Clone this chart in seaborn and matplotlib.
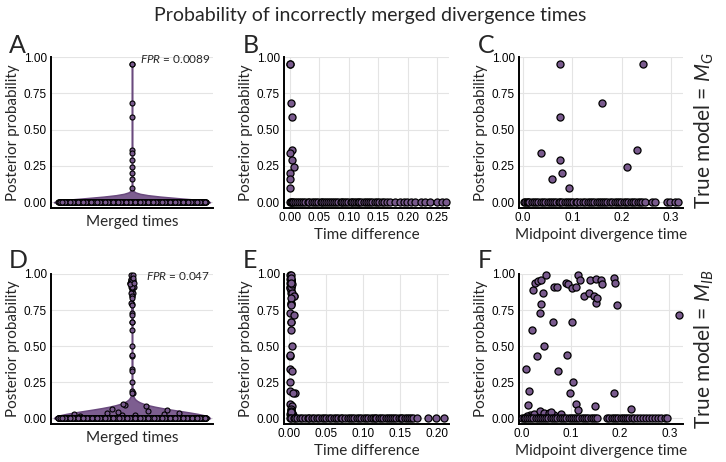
import numpy as np
import pandas as pd
import matplotlib
matplotlib.use("Agg")
import matplotlib.pyplot as plt
import seaborn as sns
from matplotlib.ticker import FormatStrFormatter

# ---------------- data ----------------
# Top row (true model = M_G): non-zero posterior probabilities
top_prob_nonzero = [0.95, 0.95, 0.68, 0.59, 0.36, 0.34, 0.29, 0.24, 0.20, 0.16, 0.10]
top_diff_nonzero = [0.001, 0.001, 0.002, 0.003, 0.003, 0.001, 0.004, 0.007, 0.001, 0.001, 0.000]
top_mid_nonzero = [0.074, 0.243, 0.160, 0.074, 0.230, 0.036, 0.075, 0.211, 0.079, 0.058, 0.094]
# x positions of the visible zero-probability points
top_zero_diff = [0.000, 0.002, 0.004, 0.006, 0.009, 0.012, 0.015, 0.019, 0.022, 0.026,
                 0.030, 0.033, 0.037, 0.041, 0.044, 0.048, 0.052, 0.055, 0.058, 0.061,
                 0.065, 0.068, 0.071, 0.074, 0.078, 0.082, 0.086, 0.089, 0.092, 0.095,
                 0.099, 0.103, 0.106, 0.109, 0.112, 0.115, 0.118, 0.121, 0.125, 0.129,
                 0.133, 0.136, 0.140, 0.144, 0.148, 0.152, 0.156, 0.160, 0.165, 0.170,
                 0.178, 0.186, 0.193, 0.199, 0.206, 0.212, 0.222, 0.230, 0.237, 0.250,
                 0.258, 0.265]
top_zero_mid = [0.002, 0.005, 0.008, 0.010, 0.013, 0.018, 0.022, 0.027, 0.031, 0.036,
                0.040, 0.045, 0.050, 0.054, 0.058, 0.063, 0.067, 0.072, 0.076, 0.080,
                0.085, 0.089, 0.094, 0.098, 0.102, 0.107, 0.110, 0.116, 0.121, 0.126,
                0.131, 0.135, 0.140, 0.144, 0.149, 0.153, 0.158, 0.162, 0.167, 0.171,
                0.176, 0.180, 0.186, 0.190, 0.195, 0.199, 0.204, 0.208, 0.213, 0.218,
                0.222, 0.227, 0.232, 0.236, 0.241, 0.247, 0.262, 0.268, 0.292, 0.297,
                0.308, 0.313]
top_fpr = 0.0089

# Bottom row (true model = M_IB)
bot_prob_nonzero = [0.34, 0.19, 0.095, 0.61, 0.89, 0.94, 0.95, 0.96, 0.43, 0.73,
                    0.79, 0.87, 0.50, 0.99, 0.67, 0.91, 0.91, 0.33, 0.94, 0.44,
                    0.93, 0.175, 0.90, 0.665, 0.25, 0.91, 0.10, 0.99, 0.955, 0.055,
                    0.845, 0.865, 0.96, 0.85, 0.80, 0.835, 0.965, 0.085, 0.96, 0.93,
                    0.97, 0.175, 0.94, 0.785, 0.065, 0.715, 0.02, 0.028, 0.048, 0.035,
                    0.035, 0.02, 0.014, 0.03, 0.04]
bot_mid_nonzero = [0.008, 0.014, 0.012, 0.021, 0.022, 0.026, 0.032, 0.038, 0.031, 0.036,
                   0.039, 0.043, 0.044, 0.050, 0.064, 0.065, 0.071, 0.073, 0.089, 0.091,
                   0.094, 0.098, 0.102, 0.102, 0.104, 0.110, 0.111, 0.115, 0.119, 0.114,
                   0.126, 0.136, 0.139, 0.146, 0.150, 0.153, 0.151, 0.149, 0.161, 0.163,
                   0.187, 0.187, 0.189, 0.194, 0.223, 0.319, 0.016, 0.025, 0.037, 0.045,
                   0.055, 0.066, 0.010, 0.080, 0.060]
bot_diff_nonzero = [0.001, 0.001, 0.002, 0.002, 0.003, 0.001, 0.002, 0.003, 0.001, 0.001,
                    0.003, 0.002, 0.004, 0.001, 0.003, 0.002, 0.001, 0.004, 0.003, 0.001,
                    0.002, 0.008, 0.001, 0.002, 0.001, 0.003, 0.001, 0.003, 0.002, 0.003,
                    0.006, 0.004, 0.002, 0.006, 0.002, 0.003, 0.001, 0.004, 0.003, 0.004,
                    0.002, 0.005, 0.002, 0.003, 0.002, 0.006, 0.002, 0.001, 0.003, 0.004,
                    0.002, 0.005, 0.003, 0.004, 0.002]
bot_zero_diff = [0.001, 0.003, 0.006, 0.008, 0.011, 0.015, 0.018, 0.021, 0.025, 0.027,
                 0.031, 0.034, 0.038, 0.040, 0.044, 0.047, 0.050, 0.054, 0.057, 0.060,
                 0.063, 0.066, 0.070, 0.072, 0.076, 0.079, 0.082, 0.085, 0.088, 0.092,
                 0.095, 0.097, 0.101, 0.104, 0.106, 0.110, 0.113, 0.116, 0.118, 0.121,
                 0.124, 0.127, 0.131, 0.133, 0.136, 0.139, 0.142, 0.145, 0.148, 0.151,
                 0.153, 0.156, 0.159, 0.162, 0.164, 0.167, 0.173, 0.188, 0.199, 0.209]
bot_zero_mid = [0.001, 0.004, 0.007, 0.011, 0.015, 0.019, 0.023, 0.028, 0.032, 0.036,
                0.041, 0.045, 0.050, 0.054, 0.059, 0.063, 0.068, 0.072, 0.077, 0.081,
                0.086, 0.090, 0.095, 0.099, 0.104, 0.108, 0.113, 0.117, 0.122, 0.126,
                0.131, 0.135, 0.140, 0.144, 0.149, 0.153, 0.174, 0.178, 0.183, 0.187,
                0.192, 0.196, 0.201, 0.205, 0.210, 0.214, 0.219, 0.224, 0.229, 0.234,
                0.240, 0.246, 0.253, 0.258, 0.265, 0.270, 0.277, 0.284, 0.291, 0.296]
bot_fpr = 0.047

panel_letters = ["A", "B", "C", "D", "E", "F"]
row_labels = [r"True model = $M_G$", r"True model = $M_{IB}$"]
title_text = "Probability of incorrectly merged divergence times"

# ---------------- style ----------------
sns.set_style("white")
plt.rcParams["font.family"] = ["Liberation Sans", "DejaVu Sans"]
plt.rcParams["mathtext.fontset"] = "custom"
plt.rcParams["mathtext.rm"] = "Lato"
plt.rcParams["mathtext.it"] = "Lato:italic"
LAB = "Lato"

PCOL = "#795a8d"
VCOL = "#7d5e90"
LCOL = "#6a4a7e"
GRID = "#e4e4e4"


def build_row(prob_nz, diff_nz, mid_nz, zero_diff, zero_mid, fpr):
    df = pd.DataFrame({
        "prob": list(prob_nz) + [0.0] * len(zero_diff),
        "diff": list(diff_nz) + list(zero_diff),
        "mid": list(mid_nz) + list(zero_mid),
    })
    # total number of replicates implied by the false-positive rate
    n_total = int(round(sum(p > 0.5 for p in prob_nz) / fpr))
    merged = np.array(list(prob_nz) + [0.0] * (n_total - len(prob_nz)))
    return df, merged


top_df, top_merged = build_row(top_prob_nonzero, top_diff_nonzero, top_mid_nonzero,
                               top_zero_diff, top_zero_mid, top_fpr)
bot_df, bot_merged = build_row(bot_prob_nonzero, bot_diff_nonzero, bot_mid_nonzero,
                               bot_zero_diff, bot_zero_mid, bot_fpr)

fig = plt.figure(figsize=(7.26, 4.62), dpi=100)
W, H = 726.0, 462.0


def axes_px(x0, x1, y0, y1):
    return fig.add_axes([x0 / W, 1 - y1 / H, (x1 - x0) / W, (y1 - y0) / H])


def style_axes(ax, xgrid=True):
    ax.set_ylim(-0.04, 1.0)
    ax.set_yticks([0, 0.25, 0.5, 0.75, 1.0])
    ax.yaxis.set_major_formatter(FormatStrFormatter("%.2f"))
    for s in ["top", "right"]:
        ax.spines[s].set_visible(False)
    for s in ["left", "bottom"]:
        ax.spines[s].set_color("black")
        ax.spines[s].set_linewidth(1.4)
    ax.grid(axis="y", color=GRID, linewidth=0.8)
    if xgrid:
        ax.grid(axis="x", color=GRID, linewidth=0.8)
    ax.set_axisbelow(True)
    ax.tick_params(axis="both", direction="in", length=2.5, width=0.8,
                   labelsize=8.5, colors="black", pad=3)
    ax.set_ylabel("Posterior probability", family=LAB, fontsize=11, labelpad=3)


def violin_panel(ax, vals, bw, fpr_txt):
    vals = np.asarray(vals)
    factor = bw / np.std(vals, ddof=1)
    sns.violinplot(y=vals, ax=ax, cut=0, inner=None, bw_method=factor,
                   color=VCOL, linecolor=LCOL, linewidth=1.1, saturation=1,
                   width=0.8, zorder=2)
    # density-scaled spread of the points inside the violin
    grid = np.linspace(vals.min(), vals.max(), 400)
    dens = np.exp(-(grid[:, None] - vals[None, :]) ** 2 / (2 * bw ** 2)).sum(axis=1)
    dmax = dens.max()
    d_at = np.exp(-(vals[:, None] - vals[None, :]) ** 2 / (2 * bw ** 2)).sum(axis=1)
    half = 0.4 * d_at / dmax * 0.95
    seq = (np.arange(len(vals)) * 0.6180339887) % 1.0
    offs = (seq * 2 - 1) * half
    sns.scatterplot(x=offs, y=vals, ax=ax, s=13, color=PCOL, edgecolor="black",
                    linewidth=0.8, legend=False, zorder=3, clip_on=False)
    ax.set_xlim(-0.415, 0.415)
    style_axes(ax, xgrid=False)
    ax.set_xticks([0])
    ax.set_xticklabels([""])
    ax.set_xlabel("Merged times", family=LAB, fontsize=11, labelpad=2)
    ax.text(0.985, 0.985, r"$FPR$ = " + fpr_txt, transform=ax.transAxes,
            ha="right", va="center", fontsize=8.5, family=LAB)


def scatter_panel(ax, df, xcol, xlim, xticks, fmt, xlabel):
    sns.scatterplot(data=df, x=xcol, y="prob", ax=ax, s=26, color=PCOL,
                    edgecolor="black", linewidth=0.9, legend=False, zorder=3,
                    clip_on=False)
    ax.set_xlim(*xlim)
    ax.set_xticks(xticks)
    ax.xaxis.set_major_formatter(FormatStrFormatter(fmt))
    style_axes(ax)
    ax.set_xlabel(xlabel, family=LAB, fontsize=11, labelpad=3)


# columns (pixel extents) and rows
cols = [(51, 213), (284, 449), (519, 683)]
rows = [(57, 208), (274, 424)]

axA = axes_px(*cols[0], *rows[0])
axB = axes_px(*cols[1], *rows[0])
axC = axes_px(*cols[2], *rows[0])
axD = axes_px(*cols[0], *rows[1])
axE = axes_px(*cols[1], *rows[1])
axF = axes_px(*cols[2], *rows[1])

violin_panel(axA, top_merged, 0.027, "0.0089")
scatter_panel(axB, top_df, "diff", (-0.01, 0.27), [0, 0.05, 0.10, 0.15, 0.20, 0.25],
              "%.2f", "Time difference")
scatter_panel(axC, top_df, "mid", (-0.008, 0.324), [0, 0.1, 0.2, 0.3],
              "%.1f", "Midpoint divergence time")
violin_panel(axD, bot_merged, 0.05, "0.047")
scatter_panel(axE, bot_df, "diff", (-0.007, 0.216), [0, 0.05, 0.10, 0.15, 0.20],
              "%.2f", "Time difference")
scatter_panel(axF, bot_df, "mid", (-0.006, 0.328), [0, 0.1, 0.2, 0.3],
              "%.1f", "Midpoint divergence time")

# panel letters
letter_pos = [(9, 53), (243, 53), (478, 53), (9, 268), (243, 268), (478, 268)]
for (x, y), L in zip(letter_pos, panel_letters):
    fig.text(x / W, 1 - y / H, L, ha="left", va="baseline", fontsize=18, family=LAB)

# row labels on the right
fig.text(704 / W, 1 - 131 / H, row_labels[0], rotation=90, ha="center", va="center",
         fontsize=15, family=LAB)
fig.text(704 / W, 1 - 349 / H, row_labels[1], rotation=90, ha="center", va="center",
         fontsize=15, family=LAB)

fig.text(370 / W, 1 - 16 / H, title_text, ha="center", va="center", fontsize=14,
         family=LAB)

fig.savefig("out.png", dpi=100)
